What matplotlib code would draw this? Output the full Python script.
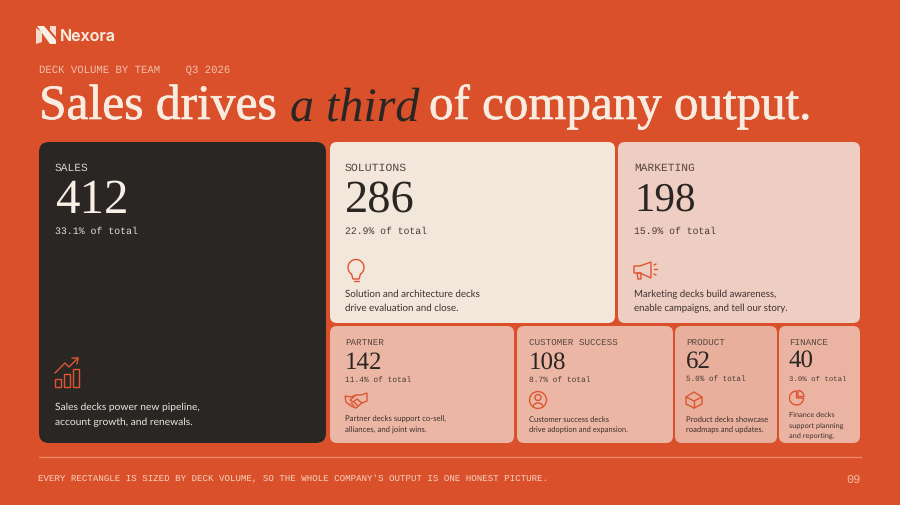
#!/usr/bin/env python3
"""Nexora slide: deck volume by team, drawn as a treemap of cards."""

import matplotlib
matplotlib.use('Agg')
import matplotlib.pyplot as plt
import matplotlib.patches as mpatches
import matplotlib.patheffects as pe

# Data
teams = ['SALES', 'SOLUTIONS', 'MARKETING', 'PARTNER', 'CUSTOMER SUCCESS', 'PRODUCT', 'FINANCE']
volumes = [412, 286, 198, 142, 108, 62, 40]
shares = [33.1, 22.9, 15.9, 11.4, 8.7, 5.0, 3.0]
descriptions = [
    'Sales decks power new pipeline,\naccount growth, and renewals.',
    'Solution and architecture decks\ndrive evaluation and close.',
    'Marketing decks build awareness,\nenable campaigns, and tell our story.',
    'Partner decks support co-sell,\nalliances, and joint wins.',
    'Customer success decks\ndrive adoption and expansion.',
    'Product decks showcase\nroadmaps and updates.',
    'Finance decks\nsupport planning\nand reporting.',
]

# Layout, in slide pixels: card edges
card_left = [39, 330, 618, 330, 517, 675, 779]
card_right = [326, 615, 860, 514, 673, 777, 860]
card_top = [143, 143, 143, 327, 327, 327, 327]
card_bottom = [444, 324, 324, 444, 444, 444, 444]

BG = '#D9502B'
DARK = '#2A2623'
ACCENT = '#DC5631'
CREAM = '#F8EBDF'
card_colors = [DARK, '#F3E7DC', '#EECDC2', '#EBB6A4', '#EBB6A4', '#E8AF9C', '#EBB4A2']

SERIF = 'Liberation Serif'
MONO = 'Liberation Mono'
SANS = 'Lato'

plt.rcParams['text.hinting'] = 'no_hinting'
plt.rcParams['text.kerning_factor'] = 6  # digits keep their full width

fig = plt.figure(figsize=(9, 5.06), dpi=100, facecolor=BG)
ax = fig.add_axes([0, 0, 1, 1])
ax.set_xlim(0, 900)
ax.set_ylim(506, 0)
ax.axis('off')


def px(size):
    return size * 0.72


def stroke(xs, ys, color=ACCENT, lw=1.0):
    ax.plot(xs, ys, color=color, lw=lw, solid_capstyle='round', solid_joinstyle='round')


def outline(patch):
    patch.set(fill=False, edgecolor=ACCENT, linewidth=1.0)
    ax.add_patch(patch)


def icon_trend():
    for x, top in [(55, 380), (64, 375), (73, 370)]:
        outline(mpatches.Rectangle((x, top), 6, 388 - top))
    stroke([55, 65, 69, 78], [374, 364, 368, 359])
    stroke([72, 78, 77], [359, 359, 365])


def icon_bulb():
    outline(mpatches.Arc((356, 268.5), 16, 16, theta1=125, theta2=55))
    stroke([351.5, 353, 359, 360.5], [275, 280, 280, 275])
    stroke([353.5, 358.5], [282, 282])


def icon_megaphone():
    outline(mpatches.Polygon([(634, 267), (640, 267), (651, 263), (651, 279), (640, 274), (634, 274)]))
    outline(mpatches.Polygon([(637, 274), (641, 274), (641, 280), (638, 280)]))
    stroke([654, 656], [266, 265])
    stroke([654, 657], [270, 270])
    stroke([654, 656], [275, 276])


def icon_handshake():
    outline(mpatches.Polygon([(345, 397), (351, 398), (356, 396), (361, 396), (367, 394), (367, 402),
                              (362, 404), (356, 409), (351, 407), (346, 403)]))
    stroke([356, 350, 353, 357, 362], [396, 401, 403, 400, 404])
    stroke([351, 354], [404, 407])
    stroke([354, 358], [403, 407])


def icon_person():
    outline(mpatches.Circle((538, 401), 8.5))
    outline(mpatches.Circle((538, 398.5), 3))
    outline(mpatches.Arc((538, 408), 10, 8, theta1=180, theta2=360))


def icon_box():
    outline(mpatches.Polygon([(694, 393), (702, 398), (702, 405), (694, 409), (686, 405), (686, 398)]))
    stroke([686, 694, 702], [398, 402, 398])
    stroke([694, 694], [402, 409])


def icon_pie():
    outline(mpatches.Wedge((796.5, 399), 7, 0, 270))
    outline(mpatches.Wedge((798, 397.5), 6, 270, 360))


icons = [icon_trend, icon_bulb, icon_megaphone, icon_handshake, icon_person, icon_box, icon_pie]

# Header
ax.add_patch(mpatches.Polygon([(36, 29), (42, 33), (42, 43), (36, 45)], color='#F3DCCB', lw=0))
ax.add_patch(mpatches.Polygon([(37, 27), (44, 27), (56, 41), (56, 45), (50, 45)], color='#FAF0E6', lw=0))
ax.add_patch(mpatches.Polygon([(50, 27), (56, 27), (56, 38), (50, 31)], color='#F3DCCB', lw=0))
ax.text(60, 42, 'Nexora', color='#F7EBDD', family='Inter', fontweight='semibold',
        fontsize=px(16), va='baseline')
ax.text(39, 72.5, 'DECK VOLUME BY TEAM    Q3 2026', color='#F4BFA8', family=MONO,
        fontsize=px(10.6), va='baseline')

heavier = [pe.withStroke(linewidth=0.5, foreground=CREAM)]
ax.text(39, 120, 'Sales drives', color=CREAM, family=SERIF, fontsize=px(49.5), va='baseline',
        path_effects=heavier)
ax.text(290, 120, 'a third', color=DARK, family=SERIF, style='italic', fontsize=px(48), va='baseline')
ax.text(429, 120, 'of company output.', color=CREAM, family=SERIF, fontsize=px(49), va='baseline',
        path_effects=heavier)

# Cards
label_sizes = [11.3, 11.5, 11.3, 9.3, 9.3, 9.3, 9.3]
value_sizes = [49, 46.5, 41, 25, 25, 25, 25]
share_sizes = [9.9, 9.8, 9.8, 7.9, 7.9, 7.7, 7.4]
desc_sizes = [10.3, 9.75, 9.6, 7.8, 7.55, 7.6, 7.4]
label_y = [171, 171, 171, 345, 345, 345, 345]
value_y = [213, 213, 211, 369, 369, 368, 367]
share_y = [234, 234, 234, 382, 382, 381, 381]
desc_y = [410, 297, 297, 422, 422, 422, 417]
line_gap = [15, 14, 14, 10.5, 10.5, 10.5, 10.5]
text_x = [55, 345, 634, 345, 529, 686, 789]

for i, team in enumerate(teams):
    ax.add_patch(mpatches.FancyBboxPatch(
        (card_left[i], card_top[i]), card_right[i] - card_left[i], card_bottom[i] - card_top[i],
        boxstyle='round,pad=0,rounding_size=%d' % (10 if i == 0 else 7),
        facecolor=card_colors[i], edgecolor='none'))
    on_dark = i == 0
    ax.text(text_x[i], label_y[i], team, family=MONO, fontsize=px(label_sizes[i]),
            color='#D8CFC6' if on_dark else '#5A4640', va='baseline')
    ax.text(text_x[i], value_y[i], str(volumes[i]), family=SERIF, fontsize=px(value_sizes[i]),
            color='#F8F0E6' if on_dark else DARK, va='baseline')
    ax.text(text_x[i], share_y[i], '%.1f%% of total' % shares[i], family=MONO, fontsize=px(share_sizes[i]),
            color='#E5DCD3' if on_dark else '#4A3A35', va='baseline')
    for j, line in enumerate(descriptions[i].split('\n')):
        ax.text(text_x[i], desc_y[i] + j * line_gap[i], line, family=SANS, fontsize=px(desc_sizes[i]),
                color='#EFE7DE' if on_dark else '#3D302C', va='baseline')
    icons[i]()

# Footer
ax.plot([39, 861], [458, 458], color='#EE8A68', lw=0.9)
ax.text(38, 481, "EVERY RECTANGLE IS SIZED BY DECK VOLUME, SO THE WHOLE COMPANY'S OUTPUT IS ONE HONEST PICTURE.",
        color='#F8D2BE', family=MONO, fontsize=px(9.1), va='baseline')
ax.text(861, 483, '09', color='#F3B79F', family=MONO, fontsize=px(12), ha='right', va='baseline')

fig.savefig('out.png', dpi=100, facecolor=BG)
